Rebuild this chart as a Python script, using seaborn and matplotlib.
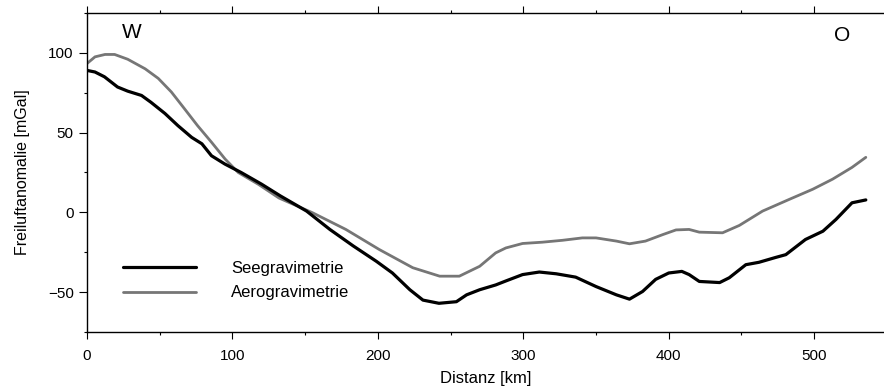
import matplotlib
matplotlib.use("Agg")
import matplotlib.pyplot as plt
from matplotlib.ticker import MultipleLocator
import pandas as pd
import seaborn as sns

# Profile distance [km] and free-air anomaly [mGal]: ship gravimetry
see_km = [0, 5.5, 12, 21, 28, 37.5, 44, 53.6, 62.5, 72, 79, 85.6, 94.8, 106, 120,
          133, 151, 167, 183, 199, 210, 222, 231, 242, 254, 261, 270, 281, 288,
          299.5, 311, 322.6, 336, 350, 364, 373, 382, 391, 400, 409, 414, 421,
          435, 441.6, 453, 462, 473.7, 480.5, 494, 506, 515, 526, 535.5]
see_mgal = [89, 88, 85, 78.6, 76, 73.3, 69, 62, 54.4, 47, 43, 35.5, 30.3, 25, 17.7,
            10.3, 0.8, -10.7, -21, -30.7, -38, -48.5, -55, -57, -56, -51.7, -48.5,
            -45.5, -43, -39, -37.4, -38.5, -40.6, -46.5, -51.7, -54.4, -49.6, -42,
            -38, -37, -39, -43.3, -44, -41, -32.8, -31.3, -28.2, -26.5, -17, -11.8,
            -4.4, 6, 7.8]

# Airborne gravimetry
aero_km = [0, 5.5, 12.4, 19, 28, 40, 49, 58, 67, 76, 85.6, 95, 104, 118, 132, 155,
           178, 201, 224, 242.5, 256, 270, 281, 288, 299.5, 313, 327, 340.6, 350,
           364, 373, 384, 396, 405, 414, 421, 437, 448.5, 464.5, 483, 499, 512.6,
           526, 535.5]
aero_mgal = [93.3, 97.5, 99, 99, 96, 90, 84, 75.5, 65, 54.4, 44, 33.4, 25, 17.5, 9,
             -0.2, -10.7, -23.3, -34.7, -40, -40, -33.8, -25.4, -22.3, -19.5, -18.7,
             -17.5, -16, -16, -18, -19.7, -18, -13.9, -11, -10.7, -12.4, -12.8, -8.2,
             0.8, 8.2, 14.5, 20.8, 28.2, 34.5]

series_names = ["Seegravimetrie", "Aerogravimetrie"]
x_ticks = [0, 100, 200, 300, 400, 500]
y_ticks = [-50, 0, 50, 100]

see = pd.DataFrame({"km": see_km, "mgal": see_mgal})
aero = pd.DataFrame({"km": aero_km, "mgal": aero_mgal})

sns.set_style("ticks")
plt.rcParams["font.family"] = ["Liberation Sans", "DejaVu Sans"]
plt.rcParams["text.color"] = "black"
plt.rcParams["axes.labelcolor"] = "black"
plt.rcParams["xtick.color"] = "black"
plt.rcParams["ytick.color"] = "black"

fig = plt.figure(figsize=(8.84, 3.9), dpi=100)
ax = fig.add_axes([0.0984, 0.1487, 0.9016, 0.818])

sns.lineplot(data=aero, x="km", y="mgal", ax=ax, color="#767676", linewidth=2.0,
             sort=False, label=series_names[1])
sns.lineplot(data=see, x="km", y="mgal", ax=ax, color="black", linewidth=2.3,
             sort=False, label=series_names[0])

ax.set_xlim(0, 548)
ax.set_ylim(-75, 125)
ax.set_xticks(x_ticks)
ax.set_yticks(y_ticks)
ax.xaxis.set_minor_locator(MultipleLocator(50))
ax.yaxis.set_minor_locator(MultipleLocator(25))
ax.tick_params(axis="both", which="major", direction="out", length=5, width=0.8,
               labelsize=11)
ax.tick_params(axis="both", which="minor", direction="out", length=2.5, width=0.8)
ax.tick_params(axis="x", which="major", pad=7)
ax.tick_params(axis="y", which="major", length=5.5, pad=4)
ax.tick_params(axis="x", top=True, which="both")
ax.tick_params(axis="x", labeltop=False)

for side in ["left", "bottom", "top"]:
    ax.spines[side].set_visible(True)
    ax.spines[side].set_linewidth(1.0)
    ax.spines[side].set_color("black")
ax.spines["right"].set_visible(False)

ax.set_xlabel("Distanz [km]", fontsize=12, labelpad=6)
ax.set_ylabel("Freiluftanomalie [mGal]", fontsize=11.5, labelpad=13)

ax.text(31, 113, "W", fontsize=15, ha="center", va="center")
ax.text(519, 111, "O", fontsize=15, ha="center", va="center")

handles, labels = ax.get_legend_handles_labels()
order = [labels.index(n) for n in series_names]
ax.legend([handles[i] for i in order], [labels[i] for i in order],
          loc="upper left", bbox_to_anchor=(0.045, 0.222), frameon=False,
          fontsize=12, handlelength=4.4, handletextpad=2.1, labelspacing=0.55,
          borderpad=0, borderaxespad=0)

fig.savefig("out.png", dpi=100)
